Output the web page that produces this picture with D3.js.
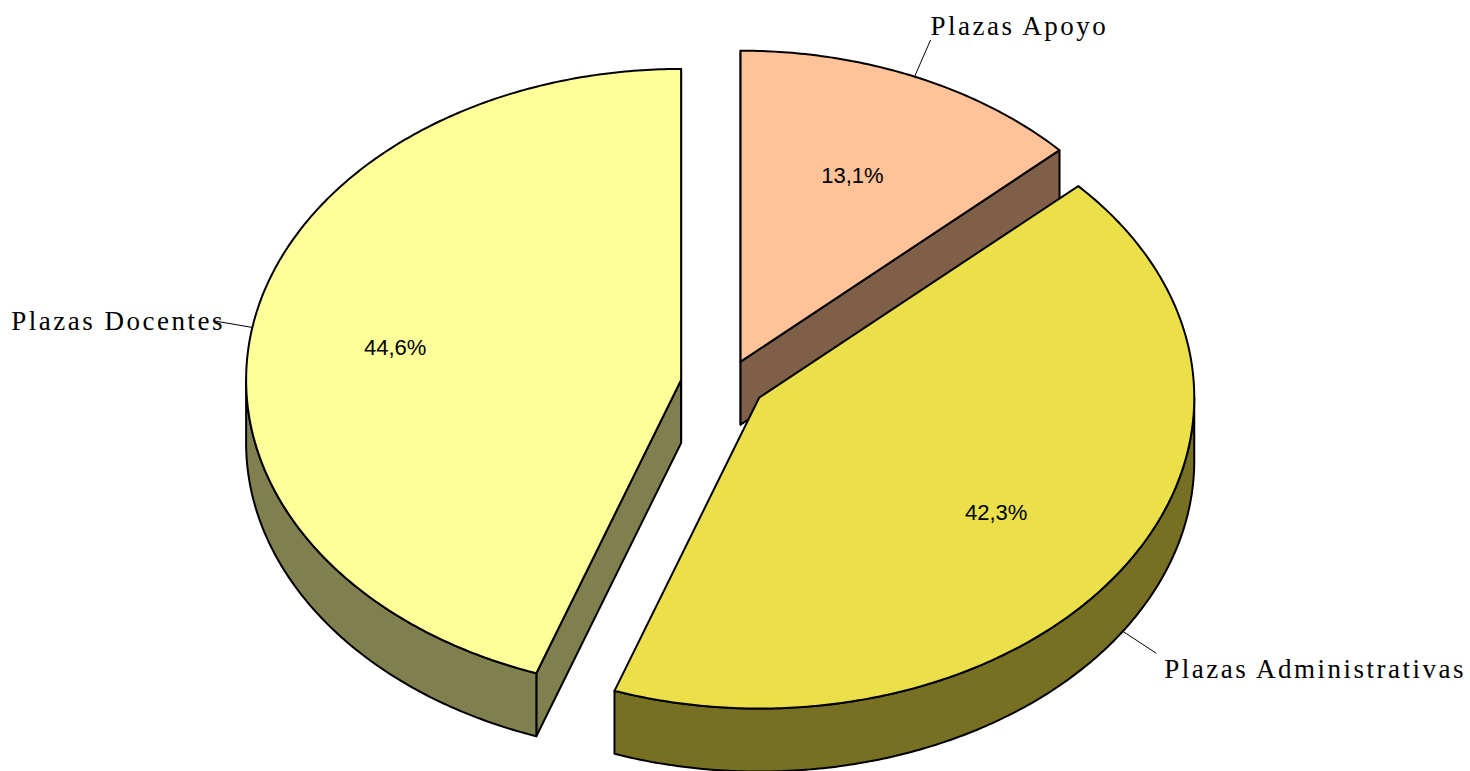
<!DOCTYPE html>
<html>
<head>
<meta charset="utf-8">
<script src="https://cdn.jsdelivr.net/npm/d3@7"></script>
<style>
  html, body { margin: 0; padding: 0; background: #fff; }
  svg { display: block; }
</style>
</head>
<body>
<svg id="chart" width="1470" height="771"></svg>
<script>
// ---- data ----
const categories = ["Plazas Apoyo", "Plazas Administrativas", "Plazas Docentes"];
const values = [13.1, 42.3, 44.6];
const pctLabels = ["13,1%", "42,3%", "44,6%"];

// ---- styles ----
const topColors = ["#FFC299", "#EBE04A", "#FFFF99"];
const sideColors = ["#7F5F48", "#777022", "#80804E"];

// ---- geometry ----
const rx = 435, ry = 311, depth = 63;
const base = { x: 723.4, y: 384.1 };
const explodeX = 42.9, explodeY = 24.5;
const labelRadius = 0.66;

const svg = d3.select("#chart");

const pie = d3.pie().sort(null).startAngle(0).endAngle(2 * Math.PI).value(d => d.value);
const data = categories.map((c, i) => ({ name: c, value: values[i], pct: pctLabels[i], i }));
const arcs = pie(data);

// ellipse projection: angle clockwise from 12 o'clock
const pt = (c, a, r = 1, dz = 0) => [c.x + r * rx * Math.sin(a), c.y - r * ry * Math.cos(a) + dz];
const line = d3.line();

function arcPoints(c, a0, a1, dz) {
  const n = Math.max(2, Math.ceil(Math.abs(a1 - a0) / 0.01));
  return d3.range(n + 1).map(k => pt(c, a0 + (a1 - a0) * k / n, 1, dz));
}

arcs.forEach(s => {
  s.mid = (s.startAngle + s.endAngle) / 2;
  s.c = {
    x: base.x + explodeX * Math.sin(s.mid),
    y: base.y - explodeY * Math.cos(s.mid)
  };
});

const order = arcs.slice().sort((a, b) => a.c.y - b.c.y);
const g = svg.append("g");

order.forEach(s => {
  const c = s.c, a0 = s.startAngle, a1 = s.endAngle, i = s.data.i;
  const gs = g.append("g");
  const strokeAttrs = sel => sel.attr("stroke", "#000").attr("stroke-width", 2).attr("stroke-linejoin", "round");

  if (Math.sin(a0) <= 1e-9) {
    const p = pt(c, a0);
    const pts = [[c.x, c.y], p, [p[0], p[1] + depth], [c.x, c.y + depth]];
    gs.append("path").attr("d", line(pts) + "Z").attr("fill", sideColors[i]).call(strokeAttrs);
  }
  if (Math.sin(a1) >= -1e-9) {
    const p = pt(c, a1);
    const pts = [[c.x, c.y], p, [p[0], p[1] + depth], [c.x, c.y + depth]];
    gs.append("path").attr("d", line(pts) + "Z").attr("fill", sideColors[i]).call(strokeAttrs);
  }
  const lo = Math.max(a0, Math.PI / 2), hi = Math.min(a1, 3 * Math.PI / 2);
  if (hi > lo) {
    const topPts = arcPoints(c, lo, hi, 0);
    const botPts = arcPoints(c, hi, lo, depth);
    gs.append("path").attr("d", line(topPts.concat(botPts)) + "Z")
      .attr("fill", sideColors[i]).call(strokeAttrs);
  }
  const topFace = [[c.x, c.y]].concat(arcPoints(c, a0, a1, 0));
  gs.append("path").attr("d", line(topFace) + "Z").attr("fill", topColors[i]).call(strokeAttrs);
});

// percentage labels
arcs.forEach(s => {
  const p = pt(s.c, s.mid, labelRadius);
  svg.append("text")
    .attr("x", p[0] - 3).attr("y", p[1] + 2)
    .attr("text-anchor", "middle").attr("dominant-baseline", "central")
    .attr("font-family", "Liberation Sans, Arial, sans-serif")
    .attr("font-size", 22).attr("fill", "#000")
    .text(s.data.pct);
});

// category labels with leader lines
const leaderLen = 40;
arcs.forEach(s => {
  const sn = Math.sin(s.mid), cs = Math.cos(s.mid);
  const front = cs < 0;
  const anchor = pt(s.c, s.mid, 1, front ? depth : 0);
  const end = [anchor[0] + leaderLen * sn, anchor[1] - leaderLen * cs];
  svg.append("line")
    .attr("x1", anchor[0]).attr("y1", anchor[1])
    .attr("x2", end[0]).attr("y2", end[1])
    .attr("stroke", "#000").attr("stroke-width", 1);
  let baseline, tx;
  const right = sn > 0;
  if (cs > 0.5) { baseline = end[1] - 5; tx = end[0]; }
  else if (cs < -0.3) { baseline = end[1] + 25; tx = end[0] + 8; }
  else { baseline = end[1] + 9; tx = right ? end[0] : end[0] + 12; }
  svg.append("text")
    .attr("x", tx)
    .attr("y", baseline)
    .attr("text-anchor", right ? "start" : "end")
    .attr("font-family", "Liberation Serif, 'Times New Roman', serif")
    .attr("font-size", 27)
    .attr("letter-spacing", "2.5px")
    .attr("fill", "#000")
    .text(s.data.name);
});
</script>
</body>
</html>
